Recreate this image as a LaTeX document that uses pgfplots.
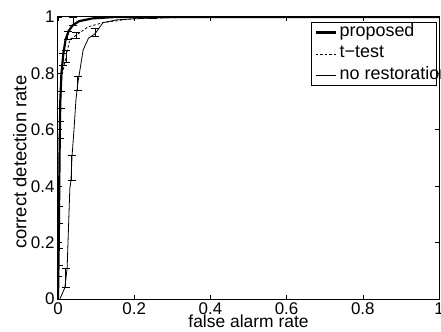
\documentclass[border=0pt]{standalone}
\usepackage{pgfplots}
\pgfplotsset{compat=1.18}
\usepackage{fontspec}
\setmainfont{Liberation Sans}
\begin{document}
\begin{tikzpicture}
\begin{axis}[
  at={(0,0)}, anchor=south west,
  scale only axis, width=381bp, height=282bp,
  xmin=0, xmax=1, ymin=0, ymax=1,
  xtick={0,0.2,0.4,0.6,0.8,1}, ytick={0,0.2,0.4,0.6,0.8,1},
  tick align=inside, major tick length=4bp,
  xtick pos=both, ytick pos=both,
  axis line style={line width=1bp},
  tick style={line width=0.6bp, black},
  /pgf/number format/assume math mode=true,
  tick label style={font=\fontsize{17}{19}\selectfont},
  xlabel={false alarm rate},
  ylabel={correct detection rate},
  xlabel style={font=\fontsize{17.5}{19}\selectfont, at={(axis description cs:0.5,-0.08)}, anchor=center},
  ylabel style={font=\fontsize{18.5}{20}\selectfont, at={(axis description cs:-0.10,0.485)}, anchor=center},
  legend style={at={(axis description cs:0.995,0.982)}, anchor=north east,
    draw=black, line width=0.8bp, inner sep=0bp, row sep=1.5bp,
    nodes={inner sep=2bp, text height=12bp, text depth=4bp},
    font=\fontsize{18}{20}\selectfont, fill=white},
  legend cell align=left,
  legend image code/.code={\path (0bp,0bp) (24bp,0bp); \draw[#1] (3bp,0bp) -- (23bp,0bp);},
]
% proposed
\addplot[black, line width=2.2bp] coordinates {
(0,0) (0.002,0.2) (0.004,0.5) (0.006,0.7) (0.009,0.8) (0.014,0.87) (0.02,0.92) (0.028,0.95) (0.038,0.97) (0.055,0.985) (0.09,0.995) (0.15,1) (1,1)};
\addlegendentry{\makebox[95bp][l]{proposed}}
% t-test
\addplot[black, line width=0.8bp, dash pattern=on 2.5bp off 2bp] coordinates {
(0,0) (0.001,0.2) (0.002,0.4) (0.004,0.6) (0.007,0.705) (0.01,0.79) (0.021,0.86) (0.031,0.92) (0.047,0.935) (0.079,0.965) (0.118,0.98) (0.2,0.995) (0.4,1) (1,1)};
\addlegendentry{\makebox[95bp][l]{t\textminus test}}
% no restoration
\addplot[black, line width=0.8bp] coordinates {
(0.005,0) (0.018,0.04) (0.024,0.11) (0.031,0.39) (0.034,0.42) (0.037,0.51) (0.042,0.6) (0.047,0.705) (0.052,0.765) (0.066,0.883) (0.08,0.925) (0.097,0.94) (0.118,0.98) (0.155,0.99) (0.25,0.997) (0.4,1) (1,1)};
\addlegendentry{\makebox[95bp][l]{no restoration}}
% error bars
\addplot[draw=none, forget plot, error bars/.cd, y dir=both, y explicit,
  error bar style={draw=black, solid, line width=0.7bp},
  error mark options={rotate=90, mark size=4bp, draw=black, line width=0.7bp}]
  coordinates {
  (0.002,0.15) +- (0,0.03)
  (0.003,0.3) +- (0,0.03)
  (0.005,0.6) +- (0,0.03)
  (0.012,0.85) +- (0,0.02)
  (0.025,0.935) +- (0,0.015)
  (0.04,0.985) +- (0,0.015)
  (0.001,0.1) +- (0,0.02)
  (0.007,0.705) +- (0,0.03)
  (0.021,0.86) +- (0,0.02)
  (0.047,0.935) +- (0,0.01)
  (0.0205,0.075) +- (0,0.035)
  (0.0355,0.465) +- (0,0.045)
  (0.052,0.765) +- (0,0.025)
  (0.097,0.945) +- (0,0.015)
  (0.25,0.997) +- (0,0.003)
  (0.55,1) +- (0,0.002)
  (0.85,1) +- (0,0.002)
};
\end{axis}
\pgfresetboundingbox
\path[use as bounding box] (-58bp,-33bp) rectangle (383bp,299bp);
\end{tikzpicture}
\end{document}
